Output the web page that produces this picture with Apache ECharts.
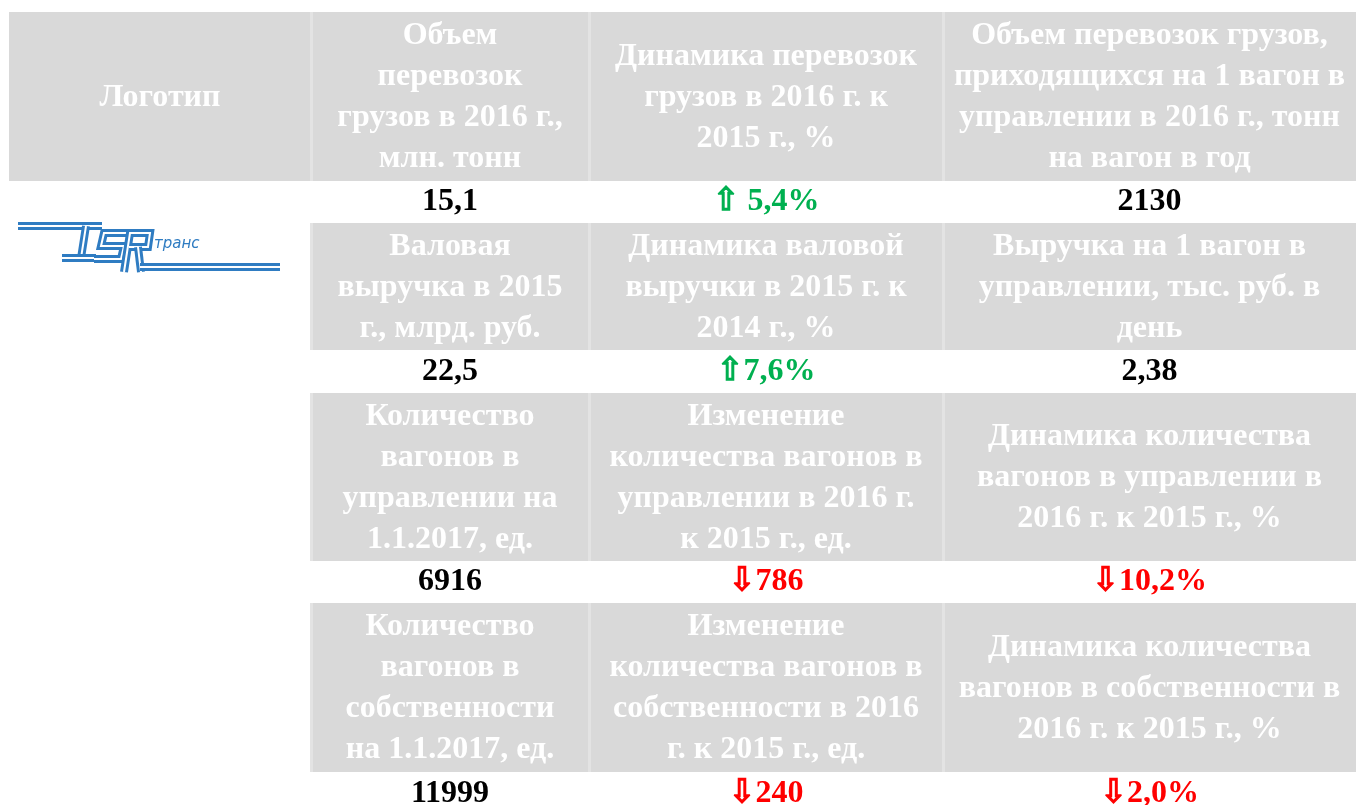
<!DOCTYPE html>
<html>
<head>
<meta charset="utf-8">
<script src="https://cdn.jsdelivr.net/npm/echarts@6/dist/echarts.min.js"></script>
<style>html,body{margin:0;padding:0;background:#fff}#myChart{width:1358px;height:805px}</style>
</head>
<body>
<div id="myChart"></div>
<script>
var myChart = echarts.init(document.getElementById('myChart'));

// подписи столбцов (по блокам)
var logoTitle = 'Логотип';
var headers1 = ['Объем\nперевозок\nгрузов в 2016 г.,\nмлн. тонн', 'Динамика перевозок\nгрузов в 2016 г. к\n2015 г., %', 'Объем перевозок грузов,\nприходящихся на 1 вагон в\nуправлении в 2016 г., тонн\nна вагон в год'];
var headers2 = ['Валовая\nвыручка в 2015\nг., млрд. руб.', 'Динамика валовой\nвыручки в 2015 г. к\n2014 г., %', 'Выручка на 1 вагон в\nуправлении, тыс. руб. в\nдень'];
var headers3 = ['Количество\nвагонов в\nуправлении на\n1.1.2017, ед.', 'Изменение\nколичества вагонов в\nуправлении в 2016 г.\nк 2015 г., ед.', 'Динамика количества\nвагонов в управлении в\n2016 г. к 2015 г., %'];
var headers4 = ['Количество\nвагонов в\nсобственности\nна 1.1.2017, ед.', 'Изменение\nколичества вагонов в\nсобственности в 2016\nг. к 2015 г., ед.', 'Динамика количества\nвагонов в собственности в\n2016 г. к 2015 г., %'];

// значения
var values1 = ['15,1', ' 5,4%', '2130'];
var values2 = ['22,5', '7,6%', '2,38'];
var values3 = ['6916', '786', '10,2%'];
var values4 = ['11999', '240', '2,0%'];

// направление изменения
var trend1 = ['', 'up', ''];
var trend2 = ['', 'up', ''];
var trend3 = ['', 'down', 'down'];
var trend4 = ['', 'down', 'down'];

// сетка таблицы (в единицах осей)
var colEdges = [9, 311, 589, 943, 1356];
var rowEdges = [12, 181, 223, 350, 393, 561, 603, 772, 815];

var headers = [headers1, headers2, headers3, headers4];
var values = [values1, values2, values3, values4];
var trends = [trend1, trend2, trend3, trend4];

var cells = [{value: [0, 0], kind: 'head', text: logoTitle}];
for (var r = 0; r < 4; r++) {
    for (var c = 0; c < 3; c++) {
        cells.push({value: [c + 1, r * 2], kind: 'head', text: headers[r][c]});
        cells.push({value: [c + 1, r * 2 + 1], kind: 'val', text: values[r][c], trend: trends[r][c]});
    }
}

var FONT = '"Liberation Serif", "Times New Roman", serif';
var rich = {
    v: {fontFamily: FONT, fontWeight: 'bold', fontSize: 32, fill: '#000000'},
    up: {fontFamily: FONT, fontWeight: 'bold', fontSize: 32, fill: '#00b050'},
    dn: {fontFamily: FONT, fontWeight: 'bold', fontSize: 32, fill: '#ff0000'},
    au: {fontFamily: '"DejaVu Sans"', fontSize: 32, fill: '#00b050', stroke: '#00b050', lineWidth: 1.4},
    ad: {fontFamily: '"DejaVu Sans"', fontSize: 32, fill: '#ff0000', stroke: '#ff0000', lineWidth: 1.4}
};

function renderCell(params, api) {
    var cell = cells[params.dataIndex];
    var col = api.value(0), row = api.value(1);
    var p0 = api.coord([colEdges[col], rowEdges[row]]);
    var p1 = api.coord([colEdges[col + 1], rowEdges[row + 1]]);
    var x = p0[0], y = p0[1], w = p1[0] - p0[0], h = p1[1] - p0[1];
    var cx = x + w / 2, cy = y + h / 2;
    var children = [];
    if (cell.kind === 'head') {
        children.push({type: 'rect', shape: {x: x, y: y, width: w, height: h}, style: {fill: '#d9d9d9'}});
        if (col > 0) {
            children.push({type: 'rect', shape: {x: x - 1, y: y, width: 3, height: h}, style: {fill: '#e3e3e3'}});
        }
        children.push({type: 'text', style: {
            text: cell.text, x: cx, y: cy + 1, align: 'center', verticalAlign: 'middle',
            fill: '#ffffff', font: 'bold 32px ' + FONT, lineHeight: 41
        }});
    } else {
        var txt;
        if (cell.trend === 'up') txt = '{au|\u21E7}{up|' + cell.text + '}';
        else if (cell.trend === 'down') txt = '{ad|\u21E9}{dn|' + cell.text + '}';
        else txt = '{v|' + cell.text + '}';
        children.push({type: 'text', style: {
            text: txt, rich: rich, x: cx, y: cy, align: 'center', verticalAlign: 'middle'
        }});
    }
    return {type: 'group', children: children};
}

// логотип
var BLUE = '#2f7cc2';
function dbl(points) {
    return [
        {type: 'polyline', shape: {points: points}, style: {stroke: BLUE, lineWidth: 8, fill: null, lineJoin: 'miter'}, silent: true},
        {type: 'polyline', shape: {points: points}, style: {stroke: '#fff', lineWidth: 2, fill: null, lineJoin: 'miter'}, silent: true}
    ];
}
var logo = [].concat(
    dbl([[18, 226], [102, 226]]),
    dbl([[86, 226], [81, 258]]),
    dbl([[62, 258], [96, 258]]),
    dbl([[132, 233], [104, 233], [101, 246], [124, 246], [121, 259], [94, 259]]),
    dbl([[124, 272], [130, 233], [150, 233], [148, 247], [129, 247]]),
    dbl([[138, 247], [141, 272]]),
    dbl([[140, 267], [280, 267]]),
    [{type: 'text', style: {text: 'транс', x: 154, y: 244, fill: BLUE, font: 'italic 15px "DejaVu Sans"', verticalAlign: 'middle'}}]
);

myChart.setOption({
    animation: false,
    grid: {left: 0, right: 0, top: 0, bottom: 0},
    xAxis: {type: 'value', min: 0, max: 1358, show: false},
    yAxis: {type: 'value', min: 0, max: 805, inverse: true, show: false},
    graphic: logo,
    series: [{
        type: 'custom',
        renderItem: renderCell,
        data: cells,
        clip: false
    }]
});
</script>
</body>
</html>
